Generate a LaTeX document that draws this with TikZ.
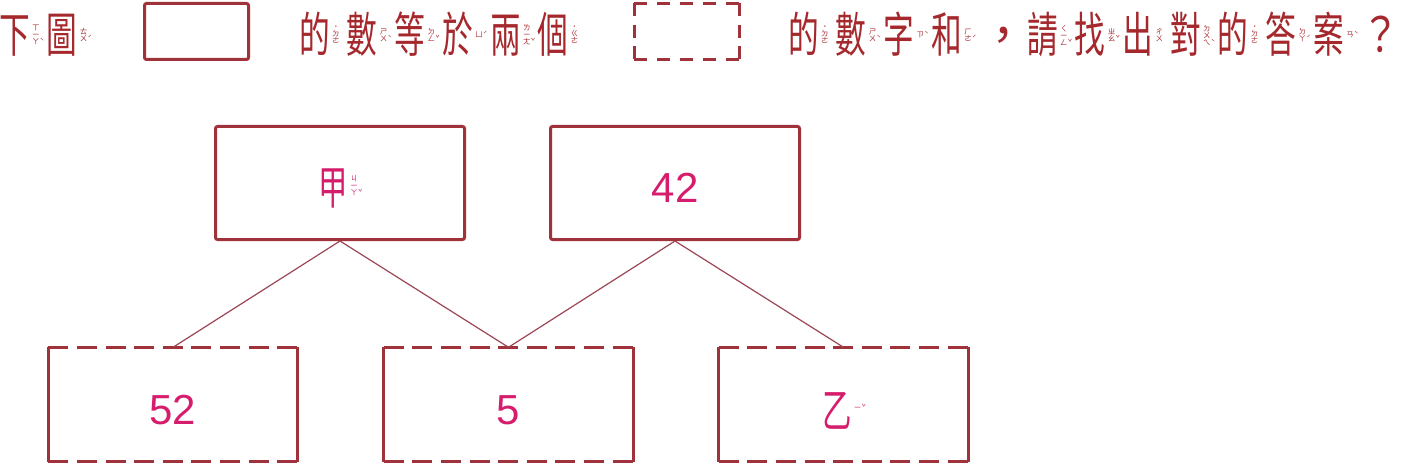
\documentclass[tikz,border=0pt]{standalone}
\usepackage{fontspec}
\usepackage{graphicx}
\setmainfont{Liberation Sans}
\newfontfamily\cjk{Noto Sans CJK TC}
\definecolor{boxc}{RGB}{160,50,60}
\definecolor{hdrc}{RGB}{165,40,45}
\definecolor{numc}{RGB}{214,28,108}
\definecolor{linec}{RGB}{155,70,85}
\newsavebox\zyb
\def\zyc{18pt}
\newcommand\zyf{\cjk\fontsize{7.5}{7}\selectfont}
\newcommand\zyI{ㄧ}
\newcommand\zystack[1]{\vbox{\zyf\baselineskip=7pt\lineskiplimit=-20pt\lineskip=0pt\let\\\cr\halign{\hfil##\hfil\cr#1\crcr}}}
\newcommand\zy[2]{\sbox\zyb{\zystack{#1}}\hspace{2pt}\raisebox{\dimexpr\zyc-0.5\ht\zyb+0.5\dp\zyb\relax}{\makebox[8pt]{\usebox\zyb}\makebox[3pt][l]{\zyf #2}}\hspace{4pt}}
\newcommand\C[1]{\scalebox{0.64}[1]{#1}}
\tikzset{
  hdr/.style={anchor=base west, inner sep=0pt, text=hdrc, font=\cjk\fontsize{48}{56}\selectfont},
  solidbox/.style={draw=boxc, line width=3pt, rounded corners=2pt, inner sep=0pt},
  topbox/.style={solidbox, minimum width=249pt, minimum height=113pt},
  botbox/.style={inner sep=0pt, minimum width=249pt, minimum height=114pt},
  boxline/.style={draw=boxc, line width=3pt},
  conn/.style={draw=linec, line width=1.2pt},
  numt/.style={inner sep=0pt, text=numc, font=\fontsize{42}{48}\selectfont},
  cjkt/.style={inner sep=0pt, text=numc, font=\cjk\fontsize{46}{52}\selectfont}
}
\begin{document}
\begin{tikzpicture}[x=1pt,y=-1pt]
\useasboundingbox (0,0) rectangle (1402,465);
% header
\node[hdr] (h1) at (-1,53) {\C{下}\zy{ㄒ\\\zyI\\ㄚ}{ˋ}\C{圖}\zy{ㄊ\\ㄨ}{ˊ}};
\node[solidbox, minimum width=104pt, minimum height=56pt] (hs) at (196.5,31.5) {};
\node[hdr] (h2) at (299,53) {\C{的}\zy{˙\\ㄉ\\ㄜ}{}\C{數}\zy{ㄕ\\ㄨ}{ˋ}\C{等}\zy{ㄉ\\ㄥ}{ˇ}\C{於}\zy{ㄩ}{ˊ}\C{兩}\zy{ㄌ\\\zyI\\ㄤ}{ˇ}\C{個}\zy{˙\\ㄍ\\ㄜ}{}};
\node[inner sep=0pt, minimum width=105pt, minimum height=56pt] (hd) at (687,31.5) {};
\draw[boxline, dash pattern=on 13pt off 10pt] (hd.north west) -- (hd.north east);
\draw[boxline, dash pattern=on 13pt off 10pt] (hd.south west) -- (hd.south east);
\draw[boxline, dash pattern=on 13pt off 8.5pt] (hd.north west) -- (hd.south west);
\draw[boxline, dash pattern=on 13pt off 8.5pt] (hd.north east) -- (hd.south east);
\node[hdr] (h3) at (788,53) {\C{的}\zy{˙\\ㄉ\\ㄜ}{}\C{數}\zy{ㄕ\\ㄨ}{ˋ}\C{字}\zy{ㄗ}{ˋ}\C{和}\zy{ㄏ\\ㄜ}{ˊ}，\C{請}\zy{ㄑ\\\zyI\\ㄥ}{ˇ}\C{找}\zy{ㄓ\\ㄠ}{ˇ}\C{出}\zy{ㄔ\\ㄨ}{}\C{對}\zy{ㄉ\\ㄨ\\ㄟ}{ˋ}\C{的}\zy{˙\\ㄉ\\ㄜ}{}\C{答}\zy{ㄉ\\ㄚ}{ˊ}\C{案}\zy{ㄢ}{ˋ}\scalebox{0.8}[1]{？}};
% top boxes
\node[topbox] (jia) at (340,183) {};
\node[topbox] (n42) at (675,183) {};
\node[cjkt] (tjia) at ([yshift=-5pt]jia.center) {\C{甲}\zy{ㄐ\\\zyI\\ㄚ}{ˇ}};
\node[numt] (t42) at ([yshift=-5pt]n42.center) {42};
% bottom boxes
\node[botbox] (b1) at (173,404.5) {};
\node[botbox] (b2) at (508.5,404.5) {};
\node[botbox] (b3) at (843.5,404.5) {};
\foreach \b in {b1,b2,b3}{
  \draw[boxline] (\b.north west) -- (\b.south west);
  \draw[boxline] (\b.north east) -- (\b.south east);
  \draw[boxline, dash pattern=on 20pt off 8.6pt] (\b.north west) -- (\b.north east);
  \draw[boxline, dash pattern=on 20pt off 8.6pt] (\b.south west) -- (\b.south east);
}
\node[numt] (t52) at ([yshift=-6pt]b1.center) {52};
\node[numt] (t5) at ([yshift=-6pt]b2.center) {5};
\node[cjkt] (tyi) at ([yshift=-6pt]b3.center) {\C{乙}\zy{\zyI}{ˇ}};
% connectors
\draw[conn] (jia.south) -- (b1.north);
\draw[conn] (jia.south) -- (b2.north);
\draw[conn] (n42.south) -- (b2.north);
\draw[conn] (n42.south) -- (b3.north);
\end{tikzpicture}
\end{document}
